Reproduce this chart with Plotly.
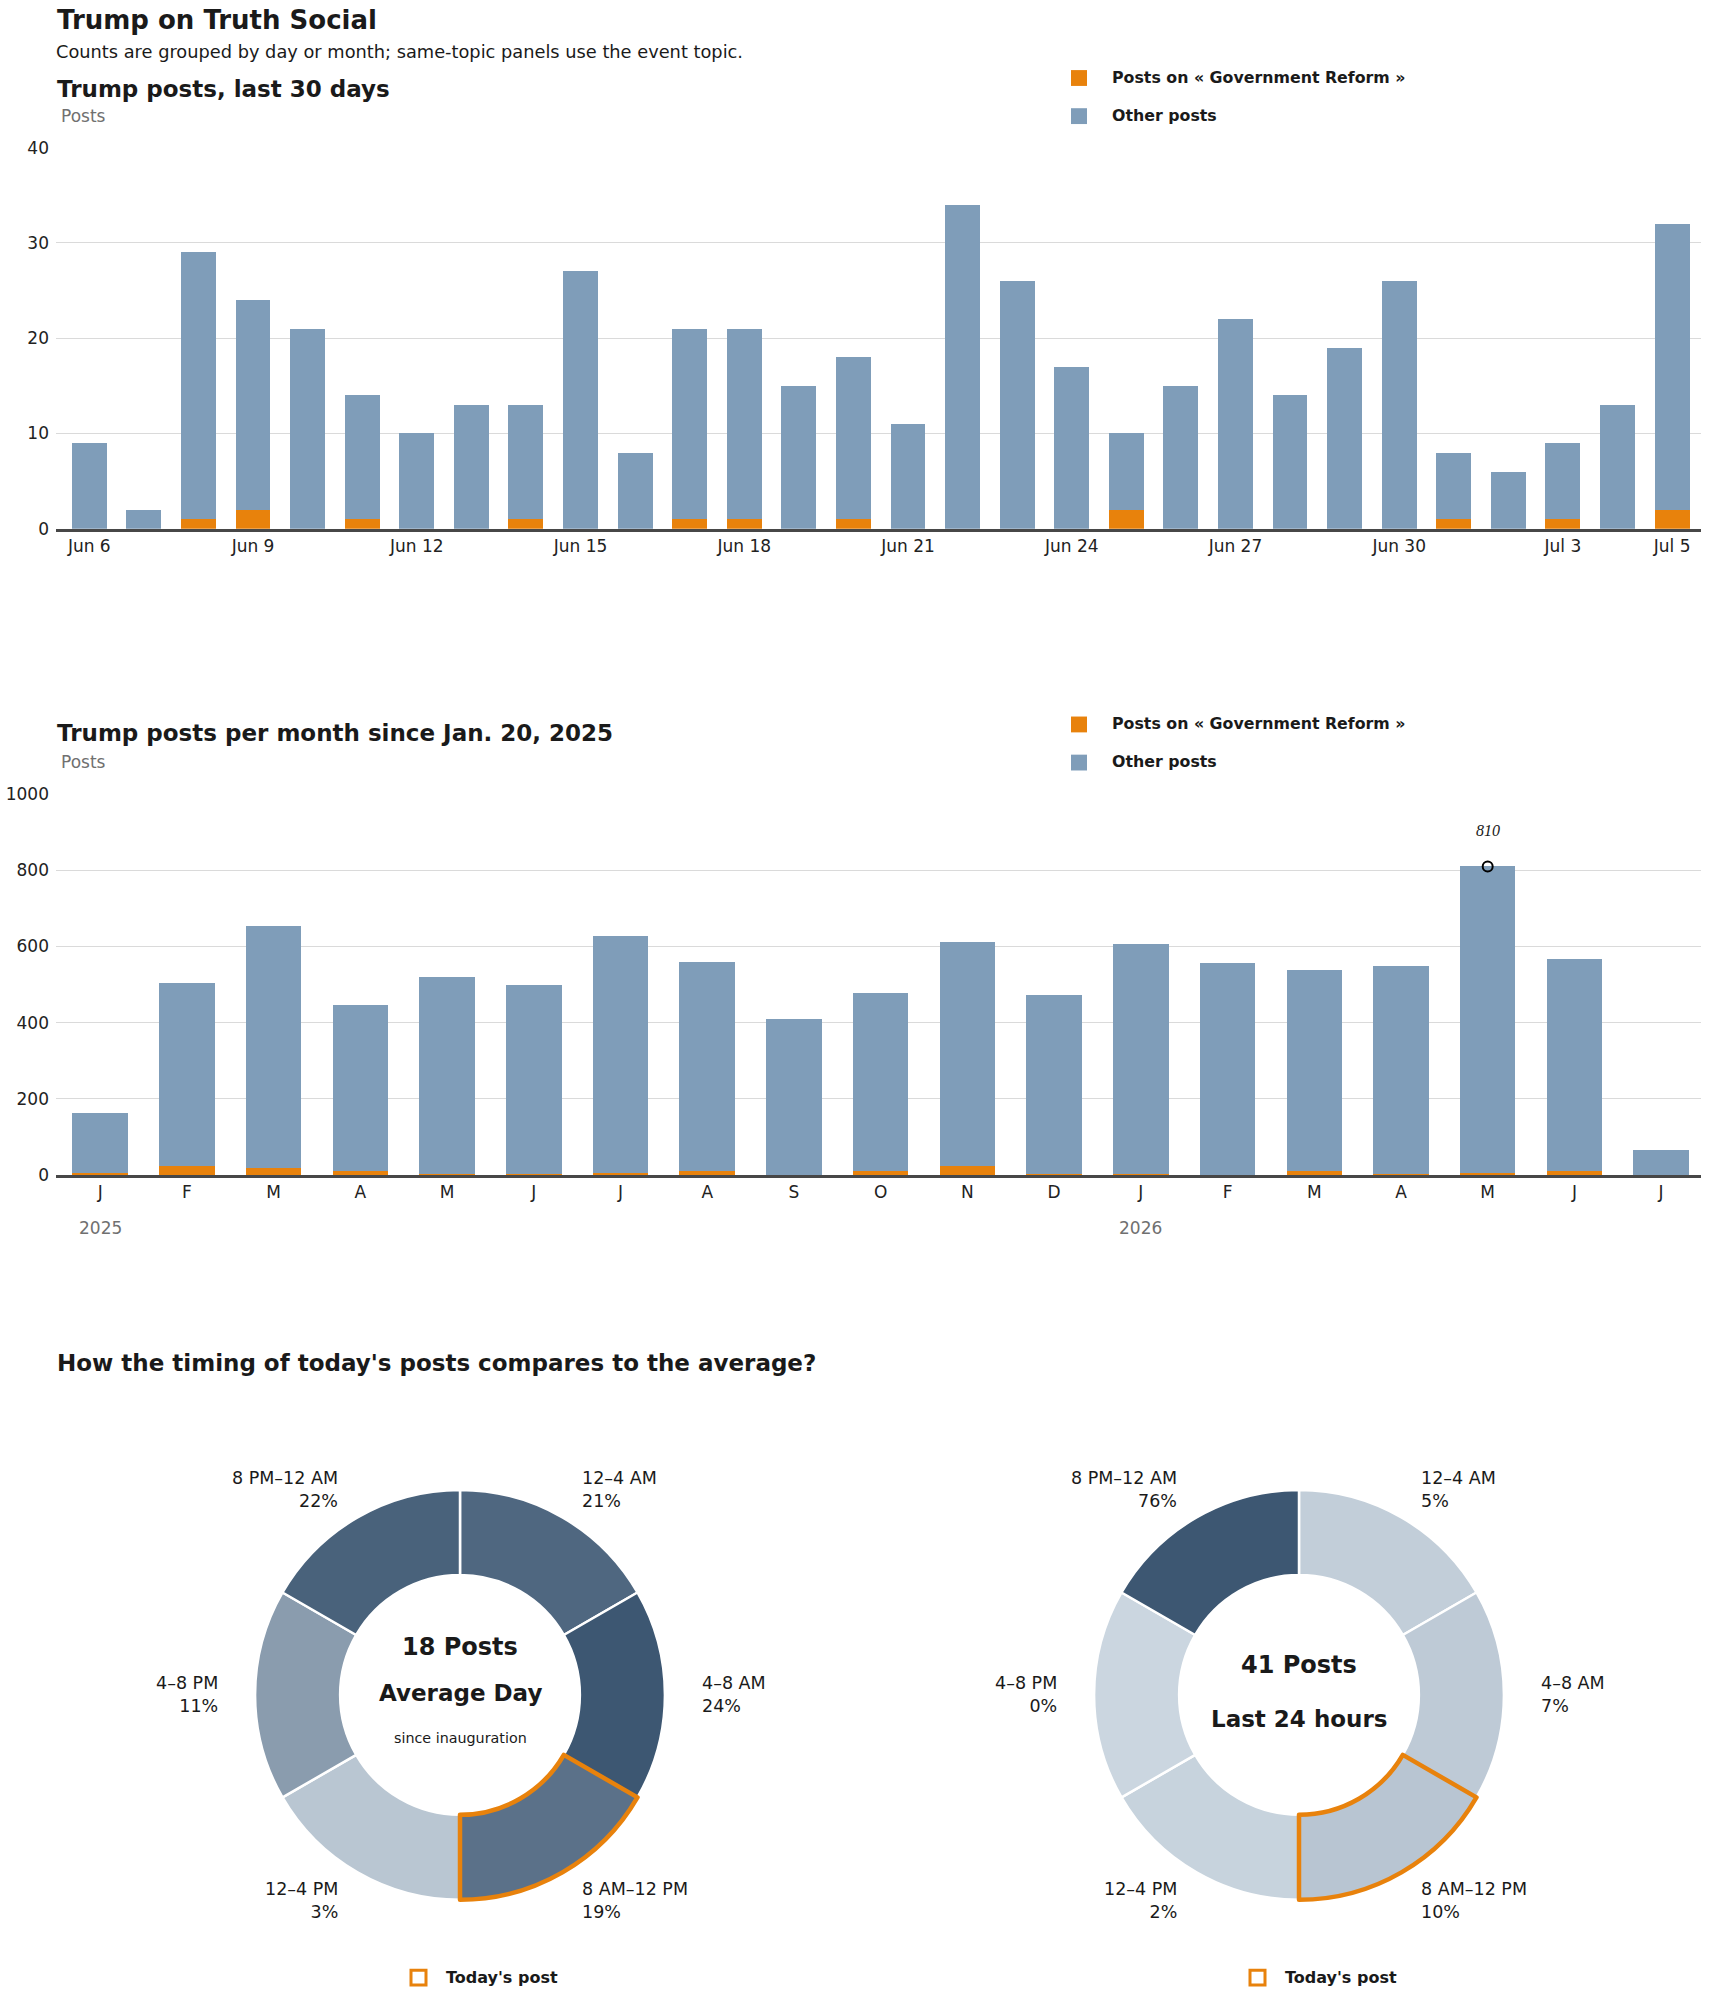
import plotly.graph_objects as go
from plotly.colors import sample_colorscale
import math

W, H = 1710, 1993

# --- data -------------------------------------------------------------
day_labels = ["Jun 6", "Jun 7", "Jun 8", "Jun 9", "Jun 10", "Jun 11", "Jun 12", "Jun 13",
              "Jun 14", "Jun 15", "Jun 16", "Jun 17", "Jun 18", "Jun 19", "Jun 20", "Jun 21",
              "Jun 22", "Jun 23", "Jun 24", "Jun 25", "Jun 26", "Jun 27", "Jun 28", "Jun 29",
              "Jun 30", "Jul 1", "Jul 2", "Jul 3", "Jul 4", "Jul 5"]
day_ticks = ["Jun 6", "Jun 9", "Jun 12", "Jun 15", "Jun 18", "Jun 21", "Jun 24", "Jun 27",
             "Jun 30", "Jul 3", "Jul 5"]
daily_total = [9, 2, 29, 24, 21, 14, 10, 13, 13, 27, 8, 21, 21, 15, 18, 11, 34, 26, 17, 10,
               15, 22, 14, 19, 26, 8, 6, 9, 13, 32]
daily_topic = [0, 0, 1, 2, 0, 1, 0, 0, 1, 0, 0, 1, 1, 0, 1, 0, 0, 0, 0, 2,
               0, 0, 0, 0, 0, 1, 0, 1, 0, 2]

month_keys = ["Jan 2025", "Feb 2025", "Mar 2025", "Apr 2025", "May 2025", "Jun 2025",
              "Jul 2025", "Aug 2025", "Sep 2025", "Oct 2025", "Nov 2025", "Dec 2025",
              "Jan 2026", "Feb 2026", "Mar 2026", "Apr 2026", "May 2026", "Jun 2026", "Jul 2026"]
month_letters = ["J", "F", "M", "A", "M", "J", "J", "A", "S", "O", "N", "D",
                 "J", "F", "M", "A", "M", "J", "J"]
monthly_total = [164, 504, 654, 446, 519, 498, 627, 559, 411, 478, 612, 472,
                 606, 556, 538, 549, 810, 566, 67]
monthly_topic = [6, 25, 18, 12, 4, 4, 6, 10, 1, 11, 23, 4,
                 4, 1, 11, 4, 6, 11, 0]
year_marks = {"Jan 2025": "2025", "Jan 2026": "2026"}

slots = ["12–4 AM", "4–8 AM", "8 AM–12 PM", "12–4 PM", "4–8 PM", "8 PM–12 AM"]
slot_hours = [4, 4, 4, 4, 4, 4]
avg_share = [21, 24, 19, 3, 11, 22]
today_share = [5, 7, 10, 2, 0, 76]
current_slot = "8 AM–12 PM"
avg_posts = 18
today_posts = 41

topic_name = "Government Reform"

# --- style ------------------------------------------------------------
ORANGE = "#E8820C"
BLUE = "#7F9DB9"
GRID = "#DADADA"
INK = "#1A1A1A"
GREY = "#707070"
FONT = "DejaVu Sans"
HEAVY = dict(family=FONT, color=INK, weight="bold")


def px(x):
    return x / W


def py(y):
    return 1 - y / H


def text(x, y, s, font, anchor="left"):
    return dict(x=px(x), y=py(y), xref="paper", yref="paper", text=s, showarrow=False,
                xanchor=anchor, yanchor="middle", font=font)


fig = go.Figure()

# daily bars
daily_other = [t - s for t, s in zip(daily_total, daily_topic)]
fig.add_trace(go.Bar(x=day_labels, y=daily_topic, name=f"Posts on « {topic_name} »",
                     marker=dict(color=ORANGE, line=dict(width=0)), xaxis="x", yaxis="y"))
fig.add_trace(go.Bar(x=day_labels, y=daily_other, name="Other posts",
                     marker=dict(color=BLUE, line=dict(width=0)), xaxis="x", yaxis="y"))

# monthly bars
monthly_other = [t - s for t, s in zip(monthly_total, monthly_topic)]
fig.add_trace(go.Bar(x=month_keys, y=monthly_topic, name=f"Posts on « {topic_name} »",
                     marker=dict(color=ORANGE, line=dict(width=0)), xaxis="x2", yaxis="y2"))
fig.add_trace(go.Bar(x=month_keys, y=monthly_other, name="Other posts",
                     marker=dict(color=BLUE, line=dict(width=0)), xaxis="x2", yaxis="y2"))

# peak marker
peak = max(monthly_total)
peak_month = month_keys[monthly_total.index(peak)]
fig.add_trace(go.Scatter(x=[peak_month], y=[peak], mode="markers",
                         marker=dict(symbol="circle-open", size=10, color="black",
                                     line=dict(width=2)),
                         xaxis="x2", yaxis="y2"))

annotations = []
shapes = []

annotations.append(dict(x=peak_month, y=peak, xref="x2", yref="y2", text=f"<i>{peak}</i>",
                        showarrow=False, yshift=36,
                        font=dict(family="Liberation Serif", size=16, color=INK)))

for key, yr in year_marks.items():
    annotations.append(dict(x=key, xref="x2", y=py(1230), yref="paper", text=yr,
                            showarrow=False, yanchor="middle",
                            font=dict(family=FONT, size=17, color=GREY)))

# headings
annotations += [
    text(55, 10, "Trump on Truth Social", dict(size=26, **HEAVY)),
    text(54, 41.5, "Counts are grouped by day or month; same-topic panels use the event topic.",
         dict(family=FONT, size=17.8, color=INK)),
    text(55, 79.5, "Trump posts, last 30 days", dict(size=23, **HEAVY)),
    text(59, 107, "Posts", dict(family=FONT, size=17, color=GREY)),
    text(55, 730.5, "Trump posts per month since Jan. 20, 2025", dict(size=23, **HEAVY)),
    text(59, 759.5, "Posts", dict(family=FONT, size=17, color=GREY)),
    text(55, 1366.5, "How the timing of today's posts compares to the average?",
         dict(size=23, **HEAVY)),
]

# legends for the two bar panels
for top in (68.7, 721.7):
    for i, (col, lab) in enumerate([(ORANGE, f"Posts on « {topic_name} »"),
                                    (BLUE, "Other posts")]):
        yc = top + 38.5 * i
        shapes.append(dict(type="rect", xref="paper", yref="paper",
                           x0=px(1071), x1=px(1087), y0=py(yc + 8), y1=py(yc - 8),
                           fillcolor=col, line=dict(width=0)))
        annotations.append(text(1110, yc - 1, lab, dict(size=15.8, **HEAVY)))

# donuts
R = 207
centers = [(460, 1702), (1299, 1702)]
light_dark = [[0, "#CBD6E0"], [1, "#3D5772"]]
for (cx, cy), shares in zip(centers, [avg_share, today_share]):
    top = max(shares)
    colors = sample_colorscale(light_dark, [s / top for s in shares])
    dom = dict(x=[px(cx - R), px(cx + R)], y=[py(cy + R), py(cy - R)])
    fig.add_trace(go.Pie(labels=slots, values=slot_hours, hole=0.585, sort=False,
                         direction="clockwise", rotation=0, textinfo="none",
                         marker=dict(colors=colors, line=dict(color="white", width=2.5)),
                         domain=dom, hoverinfo="label"))
    # outline of the current slot drawn on top
    fig.add_trace(go.Pie(labels=slots, values=slot_hours, hole=0.585, sort=False,
                         direction="clockwise", rotation=0, textinfo="none",
                         marker=dict(colors=["rgba(0,0,0,0)"] * len(slots),
                                     line=dict(color=[ORANGE if s == current_slot else "rgba(0,0,0,0)" for s in slots],
                                               width=[4.5 if s == current_slot else 0 for s in slots])),
                         domain=dom, hoverinfo="skip"))
    # slot labels around the ring
    step = 360 / sum(slot_hours)
    acc = 0
    for lab, hrs, s in zip(slots, slot_hours, shares):
        mid = math.radians((acc + hrs / 2) * step)
        acc += hrs
        lx = cx + 240 * math.sin(mid)
        ly = cy - 240 * math.cos(mid)
        right = math.sin(mid) > 0
        a = text(lx, ly, f"{lab}<br>{s}%", dict(family=FONT, size=17.5, color=INK),
                 anchor="left" if right else "right")
        a["align"] = "left" if right else "right"
        annotations.append(a)
    # legend swatch
    shapes.append(dict(type="rect", xref="paper", yref="paper",
                       x0=px(cx - 49), x1=px(cx - 34), y0=py(cy + 293), y1=py(cy + 278),
                       line=dict(color=ORANGE, width=3), fillcolor="white"))
    annotations.append(text(cx - 16, cy + 285, "Today's post", dict(size=16, **HEAVY)))

# centre labels
cx, cy = centers[0]
annotations += [
    text(cx, cy - 48, f"{avg_posts} Posts", dict(size=24, **HEAVY), "center"),
    text(cx, cy - 2, "Average Day", dict(size=23, **HEAVY), "center"),
    text(cx, cy + 44, "since inauguration", dict(family=FONT, size=14.3, color=INK), "center"),
]
cx, cy = centers[1]
annotations += [
    text(cx, cy - 30, f"{today_posts} Posts", dict(size=24, **HEAVY), "center"),
    text(cx, cy + 24, "Last 24 hours", dict(size=23, **HEAVY), "center"),
]

x_dom = [px(56), px(1701)]
tick_font = dict(family=FONT, size=17, color="#222222")

fig.update_layout(
    width=W, height=H,
    margin=dict(l=0, r=0, t=0, b=0),
    paper_bgcolor="white", plot_bgcolor="white",
    showlegend=False,
    barmode="stack", bargap=0.36,
    font=dict(family=FONT, color=INK),
    xaxis=dict(domain=x_dom, anchor="y", type="category", range=[-0.61, 29.53],
               tickvals=day_ticks, ticktext=day_ticks, tickfont=tick_font, showgrid=False,
               showline=True, linecolor="#474747", linewidth=2.5, ticks=""),
    yaxis=dict(domain=[py(524), py(139)], anchor="x", range=[0, 40], dtick=10,
               tickfont=tick_font, gridcolor=GRID, gridwidth=1, zeroline=False,
               ticklabelstandoff=6),
    xaxis2=dict(domain=x_dom, anchor="y2", type="category", range=[-0.51, 18.46],
                tickvals=month_keys, ticktext=month_letters, tickfont=tick_font,
                showgrid=False, showline=True, linecolor="#474747", linewidth=2.5, ticks=""),
    yaxis2=dict(domain=[py(1177), py(792)], anchor="x2", range=[0, 1000], dtick=200,
                tickfont=tick_font, gridcolor=GRID, gridwidth=1, zeroline=False,
                ticklabelstandoff=6),
    annotations=annotations,
    shapes=shapes,
)

# page without default body margin or scrollbars, so the figure fills the window
reset = ("document.documentElement.style.margin='0';document.body.style.margin='0';"
         "document.documentElement.style.overflow='hidden';document.body.style.overflow='hidden';")
fig.write_html("out.html", config={"displayModeBar": False}, post_script=reset)
